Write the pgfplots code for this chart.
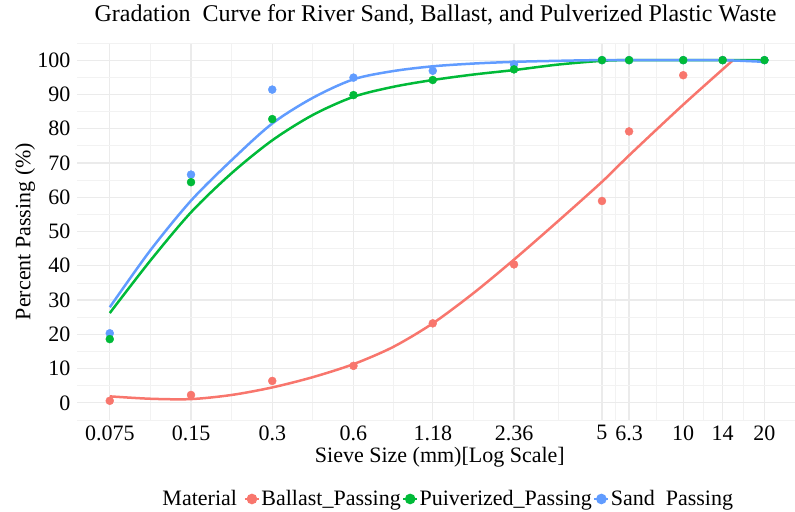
\documentclass[border=0pt]{standalone}
\usepackage{pgfplots}
\pgfplotsset{compat=1.18}
\usepackage{fontspec}
\setmainfont{Liberation Serif}

\definecolor{cBal}{HTML}{F8766D}
\definecolor{cPul}{HTML}{00BA38}
\definecolor{cSand}{HTML}{619CFF}
\definecolor{gridmaj}{HTML}{EBEBEB}
\definecolor{gridmin}{HTML}{F2F2F2}

\begin{document}
\begin{tikzpicture}[font=\fontsize{22bp}{26bp}\selectfont]
\useasboundingbox (0,0) rectangle (795bp,512bp);
\begin{axis}[
    at={(77bp,92bp)}, anchor=south west,
    scale only axis, width=720bp, height=377bp,
    xmode=log,
    xmin=0.0567, xmax=26.4,
    ymin=-5, ymax=105,
    axis line style={draw=none},
    major tick length=0pt, minor tick length=0pt,
    xtick={0.075,0.15,0.3,0.6,1.18,2.36,5,6.3,10,14,20},
    xticklabels={0.075,0.15,0.3,0.6,1.18,2.36,5,6.3,10,14,20},
    minor xtick={0.106,0.212,0.424,0.841,1.669,3.435,5.612,7.937,11.83,16.73},
    ytick={0,10,...,100},
    minor ytick={-5,5,...,105},
    yticklabel={\pgfmathprintnumber{\tick}},
    /pgf/number format/assume math mode=true,
    xticklabel shift=2bp,
    yticklabel shift=3bp,
    grid=both,
    major grid style={gridmaj, line width=1.2bp},
    minor grid style={gridmin, line width=0.8bp},
    title={Gradation\ \ Curve for River Sand, Ballast, and Pulverized Plastic Waste},
    title style={at={(axis description cs:0.498,1.06)}, anchor=center,
        font=\fontsize{24bp}{28bp}\selectfont},
    xlabel={Sieve Size (mm)[Log Scale]},
    xlabel style={at={(axis description cs:0.504,-0.099)}, anchor=center},
    ylabel={Percent Passing (\%)},
    ylabel style={at={(axis description cs:-0.072,0.5)}, anchor=center},
    legend columns=-1,
    legend style={at={(axis description cs:0.515,-0.2095)}, anchor=center,
        draw=none, fill=none, inner sep=0pt,
        /tikz/every odd column/.style={column sep=0pt},
        /tikz/every even column/.style={column sep=0pt},
        nodes={inner sep=1.2bp}},
    legend image code/.code={
        \draw[mark repeat=2, mark phase=2, #1]
            plot coordinates {(0bp,0bp) (7bp,0bp) (14bp,0bp)};},
]
% fitted curves
\addplot[cBal, line width=2.5bp, smooth, forget plot] coordinates {
 (0.075,1.9) (0.106,1.2) (0.15,1.1) (0.212,2.3) (0.3,4.5) (0.424,7.5)
 (0.6,11.3) (0.841,16.3) (1.18,23.2) (1.669,32.0) (2.36,41.8) (3.435,53.0)
 (5,64.5) (6.3,72.2) (10,87.0) (15.3,100)};
\addplot[cPul, line width=2.5bp, smooth, forget plot] coordinates {
 (0.075,26.2) (0.106,41.5) (0.15,55.6) (0.212,67.0) (0.3,76.6) (0.424,84.0)
 (0.6,89.3) (0.841,92.2) (1.18,94.2) (1.669,95.8) (2.36,97.1) (3.435,98.7)
 (5,99.8) (6.3,100) (10,100) (14,100) (20,100)};
\addplot[cSand, line width=2.5bp, smooth, forget plot] coordinates {
 (0.075,27.9) (0.106,44.5) (0.15,59.0) (0.212,70.8) (0.3,81.5) (0.424,89.0)
 (0.6,94.4) (0.841,96.8) (1.18,98.2) (1.669,99.0) (2.36,99.5) (3.435,99.8)
 (5,100) (10,100) (14,100) (20,99.5)};
% observed points
\addplot[only marks, mark=*, mark size=4bp, cBal, forget plot] coordinates {
 (0.075,0.6) (0.15,2.3) (0.3,6.4) (0.6,10.8) (1.18,23.2) (2.36,40.4)
 (5,58.9) (6.3,79.2) (10,95.6) (14,100)};
\addplot[only marks, mark=*, mark size=4bp, cSand, forget plot] coordinates {
 (0.075,20.3) (0.15,66.6) (0.3,91.4) (0.6,94.9) (1.18,96.9) (2.36,98.8)
 (5,100) (6.3,100) (10,100) (14,100) (20,100)};
\addplot[only marks, mark=*, mark size=4bp, cPul, forget plot] coordinates {
 (0.075,18.6) (0.15,64.4) (0.3,82.8) (0.6,89.8) (1.18,94.2) (2.36,97.3)
 (5,100) (6.3,100) (10,100) (14,100) (20,100)};

\addlegendimage{empty legend}
\addlegendentry{Material\ \ }
\addlegendimage{cBal, line width=2.5bp, mark=*, mark size=4bp}
\addlegendentry{Ballast\_Passing}
\addlegendimage{cPul, line width=2.5bp, mark=*, mark size=4bp}
\addlegendentry{Puiverized\_Passing}
\addlegendimage{cSand, line width=2.5bp, mark=*, mark size=4bp}
\addlegendentry{Sand\ \ Passing}
\end{axis}
\end{tikzpicture}
\end{document}
